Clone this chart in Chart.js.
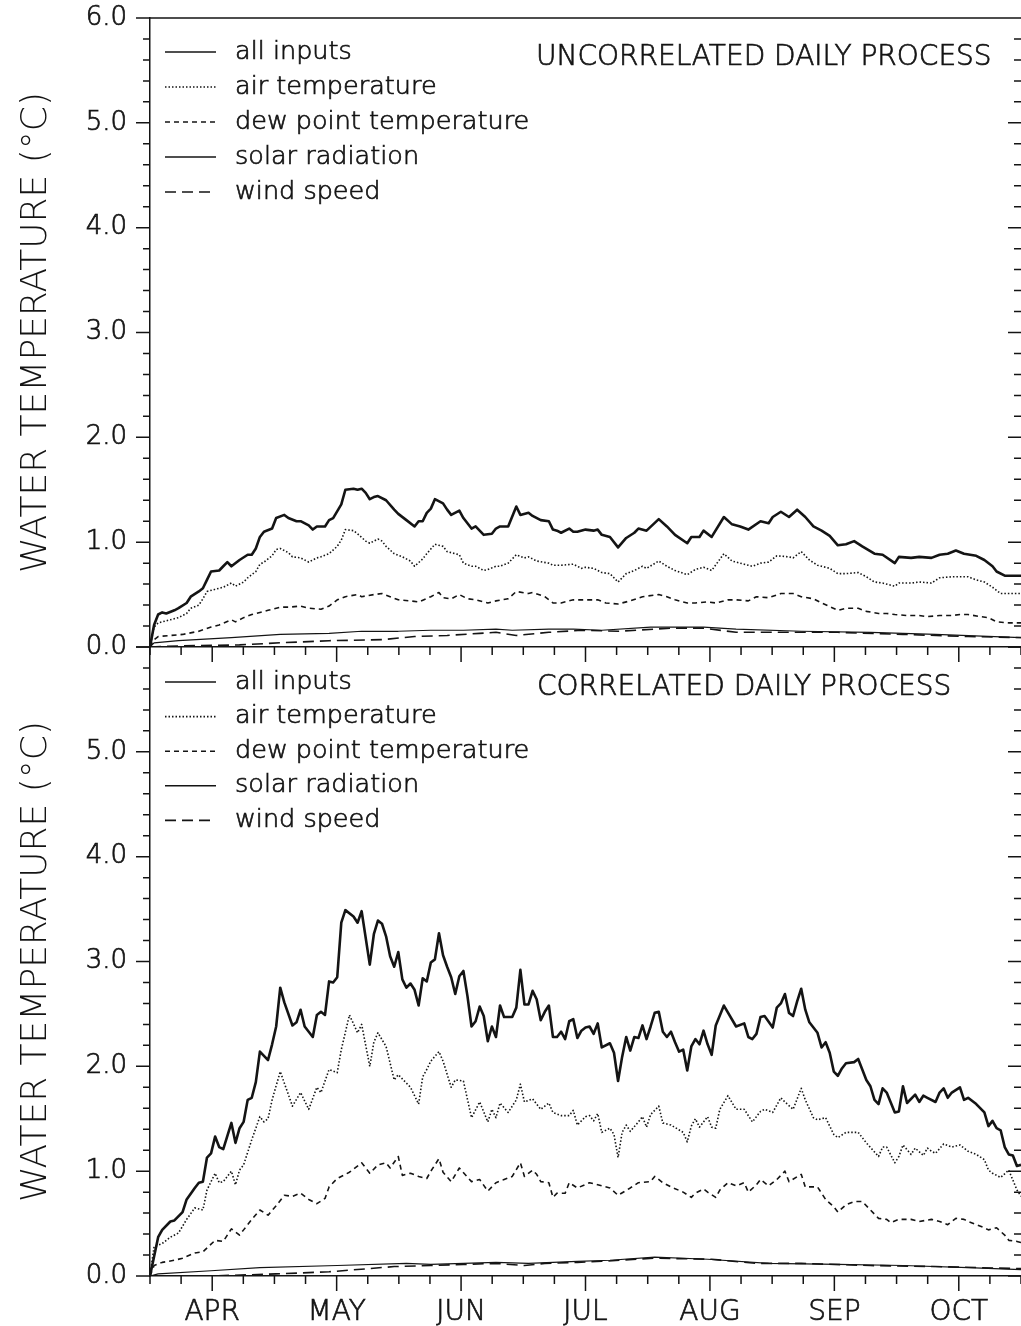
<!DOCTYPE html>
<html>
<head>
<meta charset="utf-8">
<title>Water temperature sensitivity</title>
<script src="https://cdn.jsdelivr.net/npm/chart.js@4.4.1/dist/chart.umd.min.js"></script>
<style>
  html, body { margin: 0; padding: 0; background: #fff; }
  canvas { position: absolute; left: 0; }
  #uncorrChart { top: 0; }
  #corrChart { top: 600px; }
</style>
</head>
<body>
<canvas id="uncorrChart" width="1021" height="680"></canvas>
<canvas id="corrChart" width="1021" height="726"></canvas>
<script>
// day of season (0 = 1 April) and water temperature response in °C
const SEASON_DAYS = 214;
const monthLabels = ['APR', 'MAY', 'JUN', 'JUL', 'AUG', 'SEP', 'OCT'];
const yTickValues = [0, 1, 2, 3, 4, 5, 6];
const seriesLabels = ['all inputs', 'air temperature', 'dew point temperature', 'solar radiation', 'wind speed'];

const uncAll = [[0,0],[1,0.21],[2,0.31],[3,0.33],[4,0.32],[6,0.35],[7,0.37],[9,0.42],[10,0.48],[12,0.53],[13,0.56],[14,0.64],[15,0.72],[17,0.73],[18,0.77],[19,0.81],[20,0.77],[22,0.83],[24,0.88],[25,0.88],[26,0.94],[27,1.05],[28,1.10],[30,1.13],[31,1.23],[33,1.26],[34,1.23],[36,1.20],[37,1.20],[39,1.16],[40,1.12],[41,1.15],[43,1.15],[44,1.21],[45,1.23],[47,1.36],[48,1.50],[50,1.51],[51,1.50],[52,1.51],[53,1.47],[54,1.41],[55,1.43],[56,1.44],[58,1.40],[60,1.31],[61,1.27],[63,1.21],[65,1.15],[66,1.20],[67,1.20],[68,1.28],[69,1.32],[70,1.41],[72,1.37],[73,1.31],[74,1.26],[76,1.30],[77,1.23],[79,1.13],[80,1.15],[81,1.11],[82,1.07],[84,1.08],[85,1.13],[86,1.15],[88,1.15],[90,1.34],[91,1.26],[93,1.28],[94,1.25],[96,1.21],[98,1.20],[99,1.12],[100,1.11],[101,1.09],[103,1.13],[104,1.10],[105,1.10],[107,1.12],[109,1.11],[110,1.12],[111,1.07],[113,1.05],[115,0.95],[117,1.04],[119,1.09],[120,1.13],[122,1.11],[125,1.22],[127,1.15],[129,1.07],[132,0.99],[133,1.05],[135,1.05],[136,1.11],[138,1.05],[141,1.24],[143,1.17],[145,1.15],[147,1.12],[150,1.20],[152,1.18],[153,1.24],[155,1.29],[157,1.24],[159,1.31],[161,1.24],[163,1.15],[165,1.11],[167,1.06],[169,0.97],[171,0.98],[173,1.01],[175,0.96],[178,0.89],[180,0.88],[183,0.80],[184,0.86],[187,0.85],[189,0.86],[192,0.85],[194,0.88],[196,0.89],[198,0.92],[200,0.89],[203,0.87],[205,0.83],[207,0.77],[208,0.72],[210,0.68],[214,0.68]];
const uncAir = [[0,0],[1,0.19],[2,0.23],[3,0.24],[5,0.26],[7,0.28],[9,0.32],[10,0.37],[12,0.40],[13,0.46],[14,0.53],[16,0.55],[18,0.57],[20,0.61],[21,0.58],[23,0.62],[24,0.66],[26,0.72],[27,0.79],[28,0.81],[30,0.87],[31,0.93],[32,0.94],[34,0.90],[35,0.86],[37,0.85],[39,0.81],[41,0.85],[42,0.86],[44,0.89],[46,0.96],[47,1.02],[48,1.12],[50,1.11],[51,1.08],[53,1.01],[54,0.99],[56,1.03],[57,1.01],[58,0.96],[60,0.89],[62,0.86],[64,0.82],[65,0.77],[67,0.84],[68,0.89],[70,0.98],[72,0.96],[73,0.91],[75,0.89],[76,0.88],[77,0.80],[79,0.77],[80,0.77],[82,0.73],[83,0.74],[85,0.77],[86,0.77],[88,0.80],[90,0.88],[92,0.85],[93,0.86],[95,0.82],[98,0.80],[99,0.78],[101,0.78],[104,0.79],[106,0.75],[107,0.76],[109,0.75],[111,0.71],[113,0.70],[115,0.62],[117,0.70],[119,0.73],[121,0.77],[122,0.75],[125,0.82],[127,0.77],[129,0.73],[132,0.69],[134,0.74],[136,0.76],[138,0.73],[141,0.89],[143,0.82],[146,0.79],[148,0.77],[150,0.80],[152,0.81],[154,0.87],[157,0.86],[158,0.85],[160,0.91],[162,0.83],[164,0.78],[165,0.77],[167,0.75],[169,0.70],[171,0.70],[174,0.71],[176,0.67],[178,0.62],[180,0.61],[183,0.58],[184,0.61],[187,0.61],[189,0.62],[192,0.61],[194,0.66],[197,0.67],[199,0.67],[201,0.67],[203,0.64],[205,0.62],[207,0.57],[209,0.51],[214,0.51]];
const uncDew = [[0,0],[1,0.07],[2,0.10],[5,0.11],[8,0.12],[12,0.15],[15,0.19],[17,0.21],[20,0.26],[21,0.24],[23,0.28],[25,0.31],[27,0.33],[29,0.35],[32,0.38],[34,0.38],[37,0.39],[39,0.37],[42,0.36],[44,0.39],[46,0.45],[48,0.48],[51,0.50],[52,0.48],[55,0.50],[57,0.51],[59,0.48],[61,0.45],[64,0.44],[66,0.43],[69,0.48],[71,0.52],[72,0.47],[74,0.46],[76,0.50],[78,0.46],[80,0.45],[83,0.42],[85,0.44],[88,0.46],[90,0.53],[93,0.51],[94,0.52],[97,0.48],[99,0.42],[101,0.42],[104,0.45],[106,0.45],[110,0.45],[112,0.42],[115,0.41],[118,0.44],[121,0.48],[125,0.50],[127,0.48],[129,0.45],[132,0.42],[134,0.42],[137,0.43],[139,0.42],[142,0.45],[144,0.45],[147,0.44],[149,0.48],[152,0.47],[155,0.51],[158,0.51],[160,0.48],[163,0.46],[165,0.42],[169,0.35],[171,0.37],[174,0.37],[176,0.34],[179,0.32],[181,0.32],[183,0.31],[186,0.30],[189,0.30],[191,0.29],[194,0.30],[197,0.30],[199,0.31],[201,0.31],[204,0.29],[206,0.28],[208,0.24],[211,0.23],[214,0.23]];
const uncSolar = [[0,0],[1,0.04],[7,0.06],[20,0.09],[32,0.12],[44,0.13],[52,0.15],[61,0.15],[69,0.16],[77,0.16],[85,0.17],[89,0.16],[98,0.17],[104,0.17],[111,0.16],[123,0.19],[136,0.19],[144,0.17],[160,0.15],[177,0.14],[193,0.12],[214,0.09]];
const uncWind = [[0,0],[7,0.01],[22,0.02],[32,0.04],[44,0.06],[57,0.07],[65,0.10],[73,0.11],[81,0.13],[85,0.14],[90,0.11],[98,0.14],[106,0.16],[115,0.15],[128,0.18],[136,0.18],[144,0.14],[152,0.14],[169,0.14],[185,0.12],[201,0.10],[214,0.09]];

const corAll = [[0,0],[2,0.37],[3,0.44],[5,0.52],[6,0.53],[8,0.61],[9,0.73],[11,0.84],[12,0.89],[13,0.90],[14,1.13],[15,1.17],[16,1.33],[17,1.23],[18,1.21],[20,1.46],[21,1.27],[22,1.41],[23,1.47],[24,1.68],[25,1.70],[26,1.85],[27,2.14],[29,2.06],[30,2.21],[31,2.38],[32,2.75],[33,2.61],[35,2.39],[36,2.42],[37,2.54],[38,2.38],[40,2.28],[41,2.49],[42,2.52],[43,2.49],[44,2.81],[45,2.80],[46,2.85],[47,3.37],[48,3.49],[50,3.43],[51,3.37],[52,3.48],[54,2.97],[55,3.26],[56,3.39],[57,3.36],[58,3.24],[59,3.05],[60,2.95],[61,3.09],[62,2.83],[63,2.75],[64,2.79],[65,2.73],[66,2.58],[67,2.84],[68,2.81],[69,2.99],[70,3.02],[71,3.27],[72,3.06],[73,2.95],[74,2.85],[75,2.69],[76,2.86],[77,2.91],[78,2.67],[79,2.38],[80,2.43],[81,2.57],[82,2.48],[83,2.24],[84,2.38],[85,2.28],[86,2.58],[87,2.47],[89,2.47],[90,2.56],[91,2.92],[92,2.59],[93,2.59],[94,2.72],[95,2.64],[96,2.44],[97,2.52],[98,2.58],[99,2.28],[100,2.28],[101,2.33],[102,2.26],[103,2.43],[104,2.45],[105,2.27],[106,2.34],[107,2.37],[108,2.38],[109,2.31],[110,2.41],[111,2.18],[113,2.22],[114,2.13],[115,1.86],[116,2.09],[117,2.28],[118,2.15],[119,2.28],[120,2.27],[121,2.39],[122,2.26],[123,2.38],[124,2.51],[125,2.52],[126,2.33],[127,2.28],[128,2.33],[129,2.23],[130,2.14],[131,2.16],[132,1.96],[133,2.19],[134,2.26],[135,2.21],[136,2.34],[137,2.21],[138,2.11],[139,2.39],[141,2.58],[144,2.38],[146,2.41],[147,2.28],[148,2.26],[149,2.31],[150,2.47],[151,2.48],[153,2.37],[154,2.56],[155,2.60],[156,2.69],[157,2.51],[158,2.48],[159,2.62],[160,2.74],[161,2.54],[162,2.42],[164,2.32],[165,2.18],[166,2.23],[167,2.13],[168,1.95],[169,1.91],[170,1.98],[171,2.03],[173,2.04],[174,2.07],[175,1.97],[176,1.87],[177,1.81],[178,1.68],[179,1.64],[180,1.79],[181,1.75],[183,1.56],[184,1.57],[185,1.81],[186,1.65],[188,1.73],[189,1.66],[190,1.72],[191,1.70],[193,1.66],[194,1.75],[195,1.79],[196,1.70],[197,1.75],[199,1.80],[200,1.68],[201,1.70],[203,1.64],[205,1.56],[206,1.43],[207,1.48],[208,1.41],[209,1.39],[210,1.23],[211,1.16],[212,1.15],[213,1.05],[214,1.06]];
const corAir = [[0,0],[1,0.28],[3,0.31],[5,0.37],[7,0.41],[9,0.54],[11,0.65],[13,0.63],[14,0.82],[16,0.98],[17,0.89],[18,0.90],[20,1.00],[21,0.87],[22,1.01],[23,1.06],[24,1.18],[25,1.30],[27,1.52],[28,1.47],[29,1.50],[30,1.68],[32,1.95],[33,1.84],[35,1.62],[37,1.75],[39,1.59],[41,1.80],[42,1.75],[44,1.97],[46,1.94],[47,2.16],[49,2.49],[51,2.32],[52,2.40],[54,2.00],[55,2.23],[56,2.32],[58,2.19],[60,1.87],[61,1.92],[63,1.84],[64,1.80],[66,1.64],[67,1.90],[68,1.97],[69,2.05],[71,2.14],[72,2.05],[74,1.80],[75,1.87],[77,1.86],[79,1.51],[81,1.66],[83,1.47],[84,1.59],[85,1.51],[86,1.65],[88,1.56],[90,1.68],[91,1.83],[92,1.66],[94,1.69],[96,1.59],[98,1.65],[99,1.56],[101,1.53],[103,1.53],[104,1.58],[105,1.44],[107,1.52],[108,1.53],[109,1.48],[110,1.55],[111,1.37],[113,1.41],[114,1.35],[115,1.13],[116,1.37],[117,1.44],[118,1.38],[120,1.47],[121,1.52],[122,1.42],[123,1.54],[125,1.62],[126,1.46],[128,1.44],[131,1.37],[132,1.28],[133,1.43],[134,1.50],[135,1.42],[137,1.52],[138,1.42],[139,1.41],[140,1.59],[142,1.72],[144,1.59],[146,1.59],[148,1.47],[150,1.57],[151,1.59],[153,1.56],[155,1.70],[156,1.66],[158,1.59],[160,1.79],[161,1.68],[163,1.51],[164,1.49],[166,1.51],[168,1.35],[169,1.32],[171,1.37],[174,1.37],[176,1.27],[179,1.14],[180,1.23],[181,1.23],[183,1.08],[184,1.14],[185,1.25],[187,1.16],[188,1.22],[190,1.15],[191,1.22],[192,1.19],[193,1.17],[195,1.26],[197,1.23],[199,1.25],[201,1.19],[203,1.16],[205,1.11],[206,1.01],[207,0.98],[209,0.94],[211,1.01],[213,0.82],[214,0.76]];
const corDew = [[0,0],[1,0.10],[3,0.13],[6,0.15],[8,0.17],[11,0.22],[13,0.23],[16,0.34],[18,0.33],[20,0.45],[22,0.39],[23,0.44],[25,0.54],[27,0.63],[29,0.58],[31,0.67],[33,0.77],[35,0.76],[37,0.79],[39,0.73],[41,0.69],[43,0.74],[44,0.85],[46,0.93],[49,0.99],[52,1.08],[54,0.98],[56,1.06],[58,1.08],[59,1.03],[61,1.14],[62,0.96],[64,0.98],[66,0.95],[68,0.93],[69,1.00],[71,1.12],[72,0.99],[74,0.90],[76,1.03],[79,0.90],[81,0.92],[83,0.81],[85,0.89],[87,0.92],[89,0.95],[91,1.08],[92,0.95],[94,1.01],[95,0.97],[96,0.90],[98,0.89],[99,0.75],[100,0.79],[102,0.79],[103,0.89],[105,0.84],[108,0.89],[110,0.87],[113,0.84],[115,0.77],[118,0.84],[120,0.89],[123,0.90],[124,0.95],[126,0.89],[128,0.85],[131,0.80],[133,0.75],[134,0.79],[136,0.83],[137,0.80],[139,0.75],[140,0.82],[142,0.89],[144,0.86],[146,0.89],[147,0.80],[149,0.87],[150,0.92],[152,0.86],[154,0.92],[156,1.00],[157,0.90],[160,0.97],[161,0.85],[164,0.85],[166,0.73],[168,0.66],[169,0.61],[171,0.68],[173,0.71],[175,0.71],[177,0.63],[179,0.55],[181,0.54],[182,0.51],[184,0.54],[187,0.54],[189,0.52],[192,0.54],[194,0.52],[196,0.49],[198,0.55],[200,0.54],[201,0.52],[203,0.49],[205,0.46],[206,0.44],[208,0.46],[210,0.39],[211,0.34],[213,0.33],[214,0.32]];
const corSolar = [[0,0],[2,0.02],[15,0.05],[27,0.08],[46,0.10],[63,0.12],[69,0.11],[77,0.12],[85,0.13],[93,0.12],[105,0.14],[113,0.15],[124,0.18],[137,0.16],[152,0.12],[169,0.11],[185,0.10],[201,0.08],[214,0.06]];
const corWind = [[0,0],[15,0.00],[31,0.02],[44,0.04],[60,0.09],[69,0.10],[77,0.11],[85,0.12],[92,0.10],[97,0.12],[105,0.13],[111,0.14],[124,0.17],[138,0.16],[149,0.12],[160,0.12],[177,0.10],[193,0.09],[214,0.07]];

const FONT = '"DejaVu Sans", "Liberation Sans", sans-serif';
const WEIGHT = 200;
const PEN = 0.7; // extra outline so the light face reads like a plotter pen
const INK = '#141414';
const AXIS_LEFT = 150;

// line style per input: width of the curve, width of the key sample, dash pattern
const lineStyles = [
    { width: 2.6, key: 1.6, dash: [] },
    { width: 1.6, key: 1.6, dash: [1.5, 2] },
    { width: 1.6, key: 1.6, dash: [5, 4] },
    { width: 1.2, key: 1.6, dash: [] },
    { width: 1.6, key: 1.6, dash: [11, 6] },
];

const buildDatasets = (series) => series.map((data, i) => ({
    label: seriesLabels[i],
    data,
    borderColor: INK,
    borderWidth: lineStyles[i].width,
    borderDash: lineStyles[i].dash,
    borderJoinStyle: 'round',
    pointRadius: 0,
    tension: 0,
    fill: false,
}));

const penText = (ctx, text, x, y) => {
    ctx.fillText(text, x, y);
    ctx.strokeText(text, x, y);
};

// axis ticks on all sides, key and panel heading
const panelFrame = {
    id: 'panelFrame',
    afterDatasetsDraw(chart, args, opts) {
        const { ctx, chartArea: area, scales: { x, y } } = chart;
        ctx.save();
        ctx.strokeStyle = INK;
        ctx.lineWidth = 1.5;
        ctx.beginPath();
        for (let k = 0; k <= 30; k++) {
            const py = y.getPixelForValue(k / 5);
            const major = k % 5 === 0;
            ctx.moveTo(area.left - (major ? 14 : 7), py);
            ctx.lineTo(area.left, py);
            ctx.moveTo(area.right - (major ? 13 : 7), py);
            ctx.lineTo(area.right, py);
        }
        for (let k = 0; k <= 28; k++) {
            const px = x.getPixelForValue(k * SEASON_DAYS / 28);
            ctx.moveTo(px, area.bottom);
            ctx.lineTo(px, area.bottom + (k % 4 === 2 ? 15 : 8));
        }
        if (opts.topEdge) {
            ctx.moveTo(area.left, area.top);
            ctx.lineTo(area.right, area.top);
        }
        ctx.stroke();

        ctx.fillStyle = INK;
        ctx.textBaseline = 'middle';
        ctx.font = `${WEIGHT} ${opts.keySize}px ${FONT}`;
        chart.data.datasets.forEach((ds, i) => {
            const rowY = area.top + opts.keyTop + i * opts.keyStep;
            ctx.beginPath();
            ctx.lineWidth = lineStyles[i].key;
            ctx.setLineDash(lineStyles[i].dash);
            ctx.moveTo(area.left + 15, rowY);
            ctx.lineTo(area.left + 66, rowY);
            ctx.stroke();
            ctx.setLineDash([]);
            ctx.lineWidth = PEN;
            penText(ctx, ds.label, area.left + 85, rowY);
        });

        ctx.font = `${WEIGHT} ${opts.titleSize}px ${FONT}`;
        ctx.lineWidth = PEN;
        penText(ctx, opts.title, opts.titleX, area.top + opts.titleY);
        ctx.restore();
    },
};

const makeChart = (canvasId, series, panel) => new Chart(document.getElementById(canvasId), {
    type: 'line',
    data: { datasets: buildDatasets(series) },
    plugins: [panelFrame],
    options: {
        responsive: false,
        animation: false,
        layout: { padding: { top: panel.top, left: 0, right: 0, bottom: 0 } },
        plugins: {
            legend: { display: false },
            tooltip: { enabled: false },
            panelFrame: panel.frame,
        },
        scales: {
            x: {
                type: 'linear',
                min: 0,
                max: SEASON_DAYS,
                afterBuildTicks: (scale) => {
                    scale.ticks = monthLabels.map((m, i) => ({ value: (2 + 4 * i) * SEASON_DAYS / 28 }));
                },
                afterFit: (scale) => {
                    scale.height = panel.xHeight;
                    scale.paddingLeft = 0;
                    scale.paddingRight = 0;
                },
                grid: { display: false },
                border: { display: true, color: INK, width: 1.5 },
                ticks: {
                    display: panel.monthLabels,
                    color: INK,
                    textStrokeColor: INK,
                    textStrokeWidth: PEN,
                    padding: 12,
                    maxRotation: 0,
                    autoSkip: false,
                    font: { family: FONT, size: 28, weight: WEIGHT },
                    callback: (value, index) => monthLabels[index],
                },
            },
            y: {
                type: 'linear',
                min: 0,
                max: 6,
                afterBuildTicks: (scale) => {
                    scale.ticks = yTickValues.filter((v) => v <= panel.yLabelMax).map((v) => ({ value: v }));
                },
                afterFit: (scale) => {
                    scale.width = AXIS_LEFT;
                    scale.paddingTop = 0;
                    scale.paddingBottom = 0;
                },
                grid: { display: false },
                border: { display: true, color: INK, width: 1.5 },
                ticks: {
                    color: INK,
                    textStrokeColor: INK,
                    textStrokeWidth: PEN,
                    padding: 15,
                    font: { family: FONT, size: 26, weight: WEIGHT },
                    callback: (value) => Number(value).toFixed(1),
                },
                title: {
                    display: true,
                    text: 'WATER TEMPERATURE (°C)',
                    color: INK,
                    font: { family: FONT, size: 36, weight: WEIGHT },
                    padding: { top: 15, bottom: 0 },
                },
            },
        },
    },
});

makeChart('uncorrChart', [uncAll, uncAir, uncDew, uncSolar, uncWind], {
    top: 18,
    xHeight: 33,
    monthLabels: false,
    yLabelMax: 6,
    frame: { topEdge: true, title: 'UNCORRELATED DAILY PROCESS', titleX: 536, titleY: 40, titleSize: 28, keyTop: 34, keyStep: 35, keySize: 25.5 },
});

makeChart('corrChart', [corAll, corAir, corDew, corSolar, corWind], {
    top: 47,
    xHeight: 50,
    monthLabels: true,
    yLabelMax: 5,
    frame: { topEdge: false, title: 'CORRELATED DAILY PROCESS', titleX: 537, titleY: 41, titleSize: 28, keyTop: 35, keyStep: 34.6, keySize: 25.5 },
});
</script>
</body>
</html>
